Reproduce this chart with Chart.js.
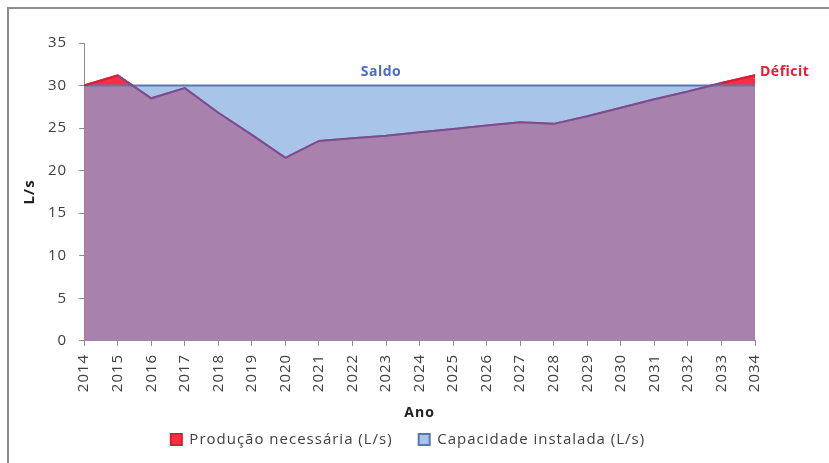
<!DOCTYPE html>
<html>
<head>
<meta charset="utf-8">
<script src="https://cdn.jsdelivr.net/npm/chart.js@4/dist/chart.umd.min.js"></script>
<style>
  html, body { margin: 0; padding: 0; background: #fff; overflow: hidden; }
  #wrap { position: relative; width: 829px; height: 463px; }
  #frame { position: absolute; left: 7px; top: 7px; width: 900px; height: 600px; border: 2px solid #8c8c8c; box-sizing: border-box; }
  canvas { position: absolute; left: 0; top: 0; }
</style>
</head>
<body>
<div id="wrap">
  <div id="frame"></div>
  <canvas id="chart" width="829" height="463"></canvas>
</div>
<script>
// ── Data ────────────────────────────────────────────────────────────
const years = ['2014','2015','2016','2017','2018','2019','2020','2021','2022','2023','2024',
               '2025','2026','2027','2028','2029','2030','2031','2032','2033','2034'];
const producao   = [30, 31.2, 28.5, 29.7, 26.8, 24.2, 21.5, 23.5, 23.8, 24.1, 24.5,
                    24.9, 25.3, 25.7, 25.5, 26.4, 27.4, 28.4, 29.3, 30.3, 31.2];
const capacidade = [30, 30, 30, 30, 30, 30, 30, 30, 30, 30, 30,
                    30, 30, 30, 30, 30, 30, 30, 30, 30, 30];
const yTicks = [0, 5, 10, 15, 20, 25, 30, 35];

const FONT = '"Open Sans", "Liberation Sans", sans-serif';
const CAP = 30;

// the source image has rather wide lettering
const spacing = {
  id: 'spacing',
  beforeLayout(chart) { chart.ctx.letterSpacing = '1px'; },
  beforeDraw(chart)   { chart.ctx.letterSpacing = '1px'; },
};

// text labels on the chart (Saldo / Déficit)
const notes = {
  id: 'notes',
  afterDatasetsDraw(chart) {
    const { ctx, scales: { x, y } } = chart;
    ctx.save();
    ctx.letterSpacing = '0.5px';
    ctx.font = 'bold 14px ' + FONT;
    ctx.textBaseline = 'middle';
    ctx.textAlign = 'center';
    ctx.fillStyle = '#4a6cc2';
    ctx.fillText('Saldo', x.getPixelForValue(8.85), y.getPixelForValue(31.55));
    ctx.fillStyle = '#e2202e';
    ctx.textAlign = 'left';
    ctx.fillText('Déficit', x.right + 5, y.getPixelForValue(31.6));
    ctx.restore();
  }
};

new Chart(document.getElementById('chart'), {
  type: 'line',
  data: {
    labels: years,
    datasets: [
      {
        label: 'Produção necessária (L/s)',
        data: producao,
        order: 3,
        fill: 'origin',
        backgroundColor: 'rgb(255,45,64)',
        borderColor: '#d81e34',
        borderWidth: 2,
        pointRadius: 0,
        tension: 0,
      },
      {
        label: 'Capacidade instalada (L/s)',
        data: capacidade,
        order: 2,
        fill: 'origin',
        backgroundColor: 'rgba(128,169,222,0.686)',
        borderColor: '#5a78b0',
        borderWidth: 2,
        pointRadius: 0,
        tension: 0,
      },
      {
        // outline of the production curve, drawn over the blue area
        label: '',
        data: producao,
        order: 1,
        fill: false,
        borderColor: '#7f4a8e',
        borderWidth: 2,
        pointRadius: 0,
        tension: 0,
        segment: {
          borderColor: c => (c.p0.parsed.y > CAP + 0.05 && c.p1.parsed.y > CAP - 0.05) ||
                            (c.p1.parsed.y > CAP + 0.05 && c.p0.parsed.y > CAP - 0.05) ? '#d81e34' : undefined,
        },
      },
    ],
  },
  options: {
    responsive: false,
    animation: false,
    layout: { padding: { left: 21, right: 34, top: 43, bottom: 6 } },
    plugins: {
      tooltip: { enabled: false },
      legend: {
        position: 'bottom',
        labels: {
          boxWidth: 11, boxHeight: 11, padding: 26,
          color: '#404040',
          font: { family: FONT, size: 15 },
          filter: item => item.text !== '',
          sort: (a, b) => a.datasetIndex - b.datasetIndex,
        },
      },
    },
    scales: {
      x: {
        offset: false,
        grid: { display: true, drawOnChartArea: false, tickLength: 5, color: '#8c8c8c' },
        border: { color: '#8c8c8c' },
        ticks: { color: '#404040', font: { family: FONT, size: 15 }, minRotation: 90, maxRotation: 90, autoSkip: false, padding: 8 },
        title: { display: true, text: 'Ano', color: '#202020', font: { family: FONT, size: 14, weight: 'bold' }, padding: { top: 4, bottom: -15 } },
      },
      y: {
        min: 0, max: 35,
        afterBuildTicks: axis => { axis.ticks = yTicks.map(v => ({ value: v })); },
        grid: { display: true, drawOnChartArea: false, tickLength: 5, color: '#8c8c8c' },
        border: { color: '#8c8c8c' },
        ticks: { color: '#404040', font: { family: FONT, size: 15 }, padding: 12 },
        title: { display: true, text: 'L/s', color: '#202020', font: { family: FONT, size: 15, weight: 'bold' }, padding: { top: 0, bottom: -3 } },
      },
      // empty spacer on the right so the legend sits where it does in the source
      y2: {
        position: 'right',
        display: true,
        grid: { display: false },
        border: { display: false },
        ticks: { display: false },
        afterFit: axis => { axis.width = 40; },
      },
    },
  },
  plugins: [spacing, notes],
});
</script>
</body>
</html>
